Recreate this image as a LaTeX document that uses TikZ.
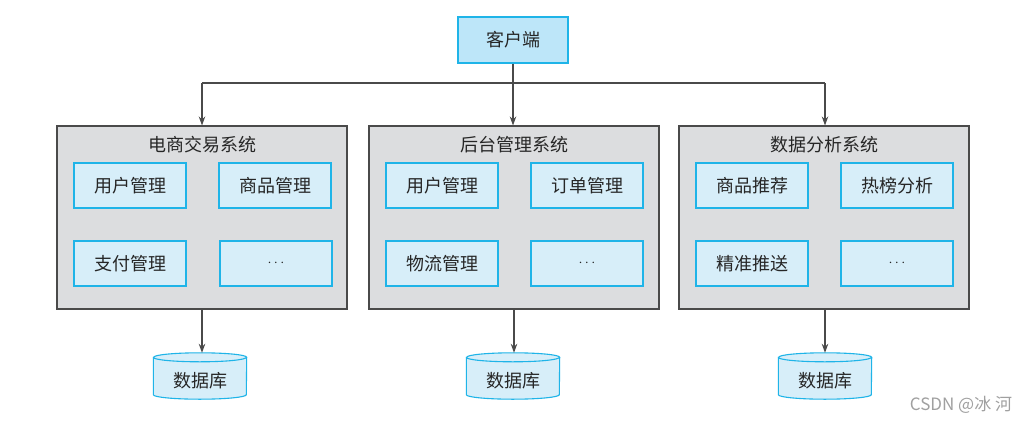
\documentclass[tikz,border=0pt]{standalone}
\usepackage{fontspec}
\setmainfont{Noto Sans CJK SC}
\usetikzlibrary{arrows.meta}
\definecolor{cyanline}{HTML}{1FB4E8}
\definecolor{clientfill}{HTML}{BDE6F9}
\definecolor{innerfill}{HTML}{D7EEF9}
\definecolor{sysfill}{HTML}{DCDDDF}
\definecolor{sysline}{HTML}{4A4A4A}
\definecolor{txt}{HTML}{262626}
\definecolor{wm}{HTML}{A0A0A0}
\tikzset{
  client/.style={draw=cyanline,fill=clientfill,line width=1.1pt,minimum width=110pt,minimum height=46pt,inner sep=0pt,font=\fontsize{18}{18}\selectfont,text=txt},
  sysbox/.style={draw=sysline,fill=sysfill,line width=1.1pt,minimum width=290pt,minimum height=183pt,inner sep=0pt},
  systitle/.style={font=\fontsize{18}{18}\selectfont,text=txt,inner sep=0pt},
  modbox/.style={draw=cyanline,fill=innerfill,line width=1.1pt,minimum width=112pt,minimum height=45pt,inner sep=0pt,font=\fontsize{18}{18}\selectfont,text=txt},
  dots/.style={modbox,font=\fontsize{14}{14}\selectfont},
  dbtext/.style={minimum width=93pt,minimum height=46pt,inner sep=0pt,font=\fontsize{18}{18}\selectfont,text=txt},
  dbshape/.style={draw=cyanline,fill=innerfill,line width=1.1pt},
  conn/.style={draw=sysline,line width=1.1pt},
  arr/.style={conn,-{Stealth[length=9pt,width=6.5pt]}},
}
\newcommand{\dbcyl}[1]{%
  \path[dbshape] ([yshift=-4.5pt]#1.north west) -- ([yshift=4.5pt]#1.south west)
    arc[start angle=180,end angle=360,x radius=46.5pt,y radius=4.5pt]
    -- ([yshift=-4.5pt]#1.north east)
    arc[start angle=0,end angle=180,x radius=46.5pt,y radius=4.5pt] -- cycle;
  \draw[dbshape,fill=none] ([yshift=-4.5pt]#1.north west)
    arc[start angle=180,end angle=360,x radius=46.5pt,y radius=4.5pt];
}
\begin{document}
\begin{tikzpicture}[x=1pt,y=1pt]
\useasboundingbox[fill=white] (0,0) rectangle (1035,-423);

% client
\node[client] (client) at (513,-40) {客户端};

% systems
\node[sysbox] (sys1) at (202,-217.5) {};
\node[sysbox] (sys2) at (514,-217.5) {};
\node[sysbox] (sys3) at (824,-217.5) {};

\node[systitle] (t1) at (202,-145) {电商交易系统};
\node[systitle] (t2) at (514,-145) {后台管理系统};
\node[systitle] (t3) at (824,-145) {数据分析系统};

% modules system 1
\node[modbox] (m11) at (130,-185.5) {用户管理};
\node[modbox] (m12) at (275,-185.5) {商品管理};
\node[modbox] (m13) at (130,-263.5) {支付管理};
\node[dots] (m14) at (276,-263.5) {\fontspec{Latin Modern Roman}$\cdots$};
% modules system 2
\node[modbox] (m21) at (442,-185.5) {用户管理};
\node[modbox] (m22) at (587,-185.5) {订单管理};
\node[modbox] (m23) at (442,-263.5) {物流管理};
\node[dots] (m24) at (587,-263.5) {\fontspec{Latin Modern Roman}$\cdots$};
% modules system 3
\node[modbox] (m31) at (752,-185.5) {商品推荐};
\node[modbox] (m32) at (897,-185.5) {热榜分析};
\node[modbox] (m33) at (752,-263.5) {精准推送};
\node[dots] (m34) at (897,-263.5) {\fontspec{Latin Modern Roman}$\cdots$};

% databases
\node[dbtext] (db1) at (200,-376) {};
\node[dbtext] (db2) at (513,-376) {};
\node[dbtext] (db3) at (825,-376) {};
\dbcyl{db1}
\dbcyl{db2}
\dbcyl{db3}
\node[dbtext] (dbl1) at (200,-381) {数据库};
\node[dbtext] (dbl2) at (513,-381) {数据库};
\node[dbtext] (dbl3) at (825,-381) {数据库};

% connectors
\coordinate (j) at (513,-83);
\coordinate (jl) at (202,-83);
\coordinate (jr) at (825,-83);
\draw[conn] (client.south) -- (j);
\draw[conn] (jl) -- (jr);
\draw[arr] (jl) -- (sys1.north);
\draw[arr] (j) -- (sys2.north -| j);
\draw[arr] (jr) -- (sys3.north -| jr);
\draw[arr] (sys1.south) -- (db1.north -| sys1.south);
\draw[arr] (sys2.south) -- (db2.north -| sys2.south);
\draw[arr] (sys3.south -| db3) -- (db3.north);

% watermark
\node[font=\fontsize{17}{17}\selectfont,text=wm,inner sep=0pt] (wmk) at (961,-405) {CSDN @冰 河};
\end{tikzpicture}
\end{document}
